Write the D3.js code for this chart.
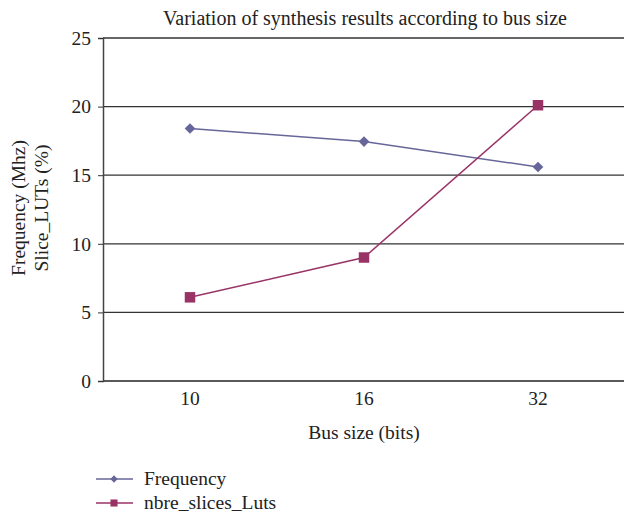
<!DOCTYPE html>
<html>
<head>
<meta charset="utf-8">
<script src="https://cdn.jsdelivr.net/npm/d3@7"></script>
<style>
  body { margin: 0; background: #fff; }
  text { font-family: "Liberation Serif", "DejaVu Serif", serif; fill: #222; }
</style>
</head>
<body>
<div id="chart"></div>
<script>
var busSizes = ["10", "16", "32"];
var frequency = [18.4, 17.45, 15.6];
var slicesLuts = [6.1, 9.0, 20.1];
var yTicks = [0, 5, 10, 15, 20, 25];

var w = 624, h = 512;
var plotLeft = 103, plotRight = 625, plotTop = 38, plotBottom = 381;
var fs = "19.5px";

var svg = d3.select("#chart").append("svg")
    .attr("width", w)
    .attr("height", h);

var x = d3.scaleBand().domain(busSizes).range([plotLeft, plotRight]);
var y = d3.scaleLinear().domain([0, 25]).range([plotBottom, plotTop]);

// gridlines
svg.selectAll("line.grid")
    .data(yTicks)
    .enter().append("line")
    .attr("x1", plotLeft).attr("x2", w)
    .attr("y1", function(d){ return y(d); })
    .attr("y2", function(d){ return y(d); })
    .attr("stroke", function(d){ return d === 0 ? "#222" : "#333"; })
    .attr("stroke-width", 1.3);

// y axis
var yAxis = svg.append("g")
    .attr("transform", "translate(" + plotLeft + ",0)")
    .call(d3.axisLeft(y).tickValues(yTicks).tickSize(5).tickPadding(7));
yAxis.select(".domain").attr("stroke", "#444").attr("stroke-width", 1.5);
yAxis.selectAll(".tick line").attr("stroke", "#333");
yAxis.selectAll("text").style("font-size", fs).attr("fill", "#222")
    .style("font-family", "Liberation Serif, serif");

// x labels
svg.selectAll("text.xl")
    .data(busSizes)
    .enter().append("text")
    .attr("class", "xl")
    .attr("x", function(d){ return x(d) + x.bandwidth() / 2; })
    .attr("y", 405)
    .attr("text-anchor", "middle")
    .style("font-size", fs)
    .text(function(d){ return d; });

// titles
svg.append("text")
    .attr("x", 365).attr("y", 25)
    .attr("text-anchor", "middle")
    .style("font-size", "20px")
    .text("Variation of synthesis results according to bus size");

svg.append("text")
    .attr("x", 364).attr("y", 439)
    .attr("text-anchor", "middle")
    .style("font-size", fs)
    .text("Bus size (bits)");

var yl = svg.append("text")
    .attr("transform", "translate(25,208) rotate(-90)")
    .attr("text-anchor", "middle")
    .style("font-size", fs);
yl.append("tspan").attr("x", 0).attr("dy", 0).text("Frequency (Mhz)");
yl.append("tspan").attr("x", 0).attr("dy", 23).text("Slice_LUTs (%)");

var series = [
  { name: "Frequency", values: frequency, color: "#66669a", shape: d3.symbolDiamond2, size: 72, lsize: 34 },
  { name: "nbre_slices_Luts", values: slicesLuts, color: "#993366", shape: d3.symbolSquare, size: 110, lsize: 50 }
];

var line = d3.line()
    .x(function(d, i){ return x(busSizes[i]) + x.bandwidth() / 2; })
    .y(function(d){ return y(d); });

series.forEach(function(s, k){
  svg.append("path")
      .attr("d", line(s.values))
      .attr("fill", "none")
      .attr("stroke", s.color)
      .attr("stroke-width", 1.5);

  svg.selectAll("path.m" + k)
      .data(s.values)
      .enter().append("path")
      .attr("class", "m" + k)
      .attr("transform", function(d, i){
        return "translate(" + (x(busSizes[i]) + x.bandwidth() / 2) + "," + y(d) + ")";
      })
      .attr("d", d3.symbol().type(s.shape).size(s.size))
      .attr("fill", s.color);

  // legend
  var ly = 479 + k * 24;
  svg.append("line")
      .attr("x1", 96).attr("x2", 133)
      .attr("y1", ly).attr("y2", ly)
      .attr("stroke", s.color).attr("stroke-width", 1.5);
  svg.append("path")
      .attr("transform", "translate(114," + ly + ")")
      .attr("d", d3.symbol().type(s.shape).size(s.lsize))
      .attr("fill", s.color);
  svg.append("text")
      .attr("x", 144).attr("y", ly + 6)
      .style("font-size", fs)
      .text(s.name);
});
</script>
</body>
</html>
